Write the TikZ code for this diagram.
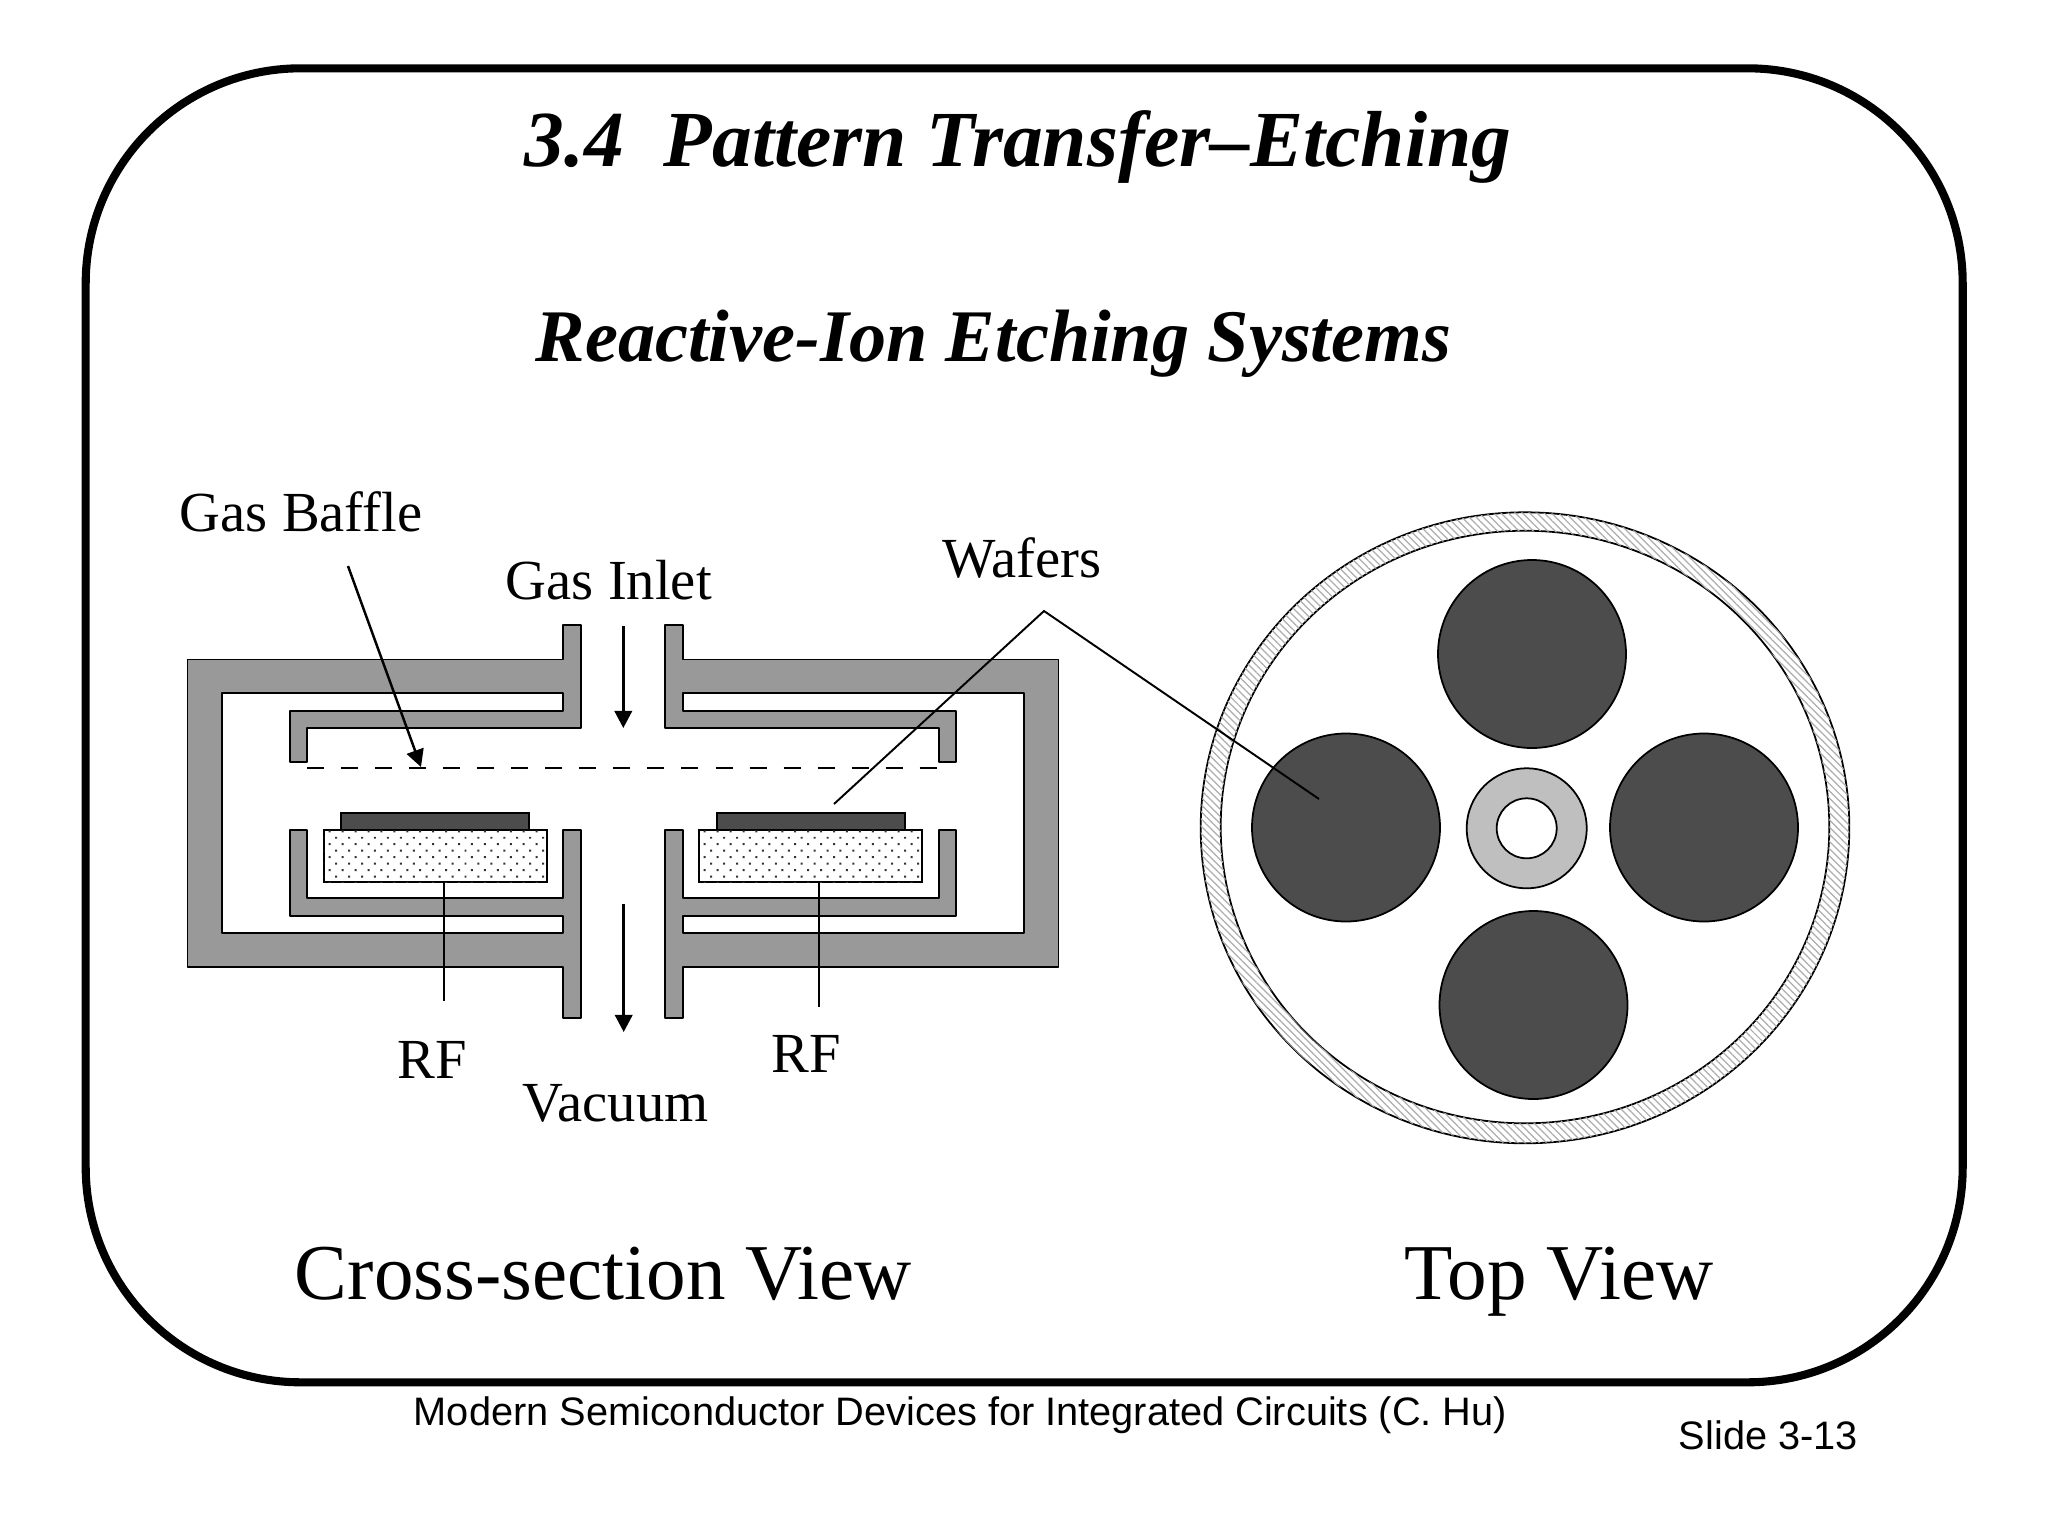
\documentclass[tikz,border=0pt]{standalone}
\usepackage{fontspec}
\setmainfont{Liberation Serif}
\newfontfamily\footfont{Liberation Sans}
\usetikzlibrary{arrows.meta}
\usetikzlibrary{patterns.meta}
\definecolor{WallCol}{gray}{.6}
\definecolor{WaferCol}{gray}{.3}
\definecolor{HubCol}{gray}{.75}
\definecolor{StippleCol}{gray}{.2}
\definecolor{RingCol}{gray}{.68}

\begin{document}
\begin{tikzpicture}[
  x=0.01cm, y=-0.01cm,
  line width=0.5pt,
  wall/.style={fill=WallCol, draw=black, line join=round},
  wafer/.style={fill=WaferCol, draw=black},
  stipple/.style={draw=black, fill=white, postaction={pattern={Dots[angle=45, distance=2.6pt, radius=0.4pt]}, pattern color=StippleCol}},
  ring/.style={draw=black, even odd rule, fill=white, postaction={pattern={Lines[angle=-45, distance=1.45pt, line width=0.35pt]}, pattern color=RingCol}},
  leader/.style={draw=black, line width=0.55pt},
  flow/.style={draw=black, line width=0.7pt, -{Triangle[length=4.9pt, width=5pt]}},
  head/.style={inner sep=0pt, anchor=base west, font=\fontsize{22.6}{26}\selectfont\bfseries\itshape},
  subhead/.style={inner sep=0pt, anchor=base west, font=\fontsize{21.1}{24}\selectfont\bfseries\itshape},
  parts/.style={inner sep=0pt, anchor=base west, font=\fontsize{16.1}{19}\selectfont},
  view/.style={inner sep=0pt, anchor=base west, font=\fontsize{22.5}{26}\selectfont},
  credit/.style={inner sep=0pt, anchor=base west, font=\fontsize{11.3}{14}\selectfont\footfont}
  ]
  \useasboundingbox (0,0) rectangle (2048,1536);

  % slide frame:
  \draw [line width=2.3pt, rounded corners=2.15cm] (85.7,68.3) rectangle (1962.7,1382.3);

  % headings:
  \node [head] (title) at (524,166) {3.4\hspace{0.5em}Pattern Transfer--Etching};
  \node [subhead] (subtitle) at (535,361) {Reactive-Ion Etching Systems};

  % chamber, both halves:
  \foreach \s in {-1,1} {
    \begin{scope}[shift={(623,0)}, xscale=-\s]
      \filldraw [wall] (60,625) -- (42,625) -- (42,728.3) -- (316,728.3) -- (316,762.3) -- (333,762.3)
        -- (333,710.7) -- (60,710.7) -- (60,693) -- (401,693) -- (401,932.7) -- (60,932.7)
        -- (60,915.7) -- (333,915.7) -- (333,830) -- (316,830) -- (316,897.7) -- (60,897.7)
        -- (60,830) -- (42,830) -- (42,1018) -- (60,1018) -- (60,966.7) -- (435.5,966.7)
        -- (435.5,659.5) -- (60,659.5) -- cycle;
      \filldraw [wafer] (94,812.7) rectangle (282,830);
      \path [stipple] (76,830) rectangle (299,882);
    \end{scope}
  }

  % baffle:
  \coordinate (baffleleft) at (307,767.7);
  \coordinate (baffleright) at (939,767.7);
  \draw [dash pattern=on 4.84pt off 4.84pt] (baffleleft) -- (baffleright);

  % top view:
  \path [ring] (1525,827.8) ellipse (324.3 and 315.5) (1525,827) ellipse (304.3 and 296.3);
  \foreach \nm/\a/\b in {waferN/1532/654, waferW/1346/827.5, waferE/1704/827.5, waferS/1533.5/1005} {
    \node [wafer, circle, inner sep=0pt, minimum size=188*0.01cm] (\nm) at (\a,\b) {};
  }
  \node [circle, draw=black, fill=HubCol, inner sep=0pt, minimum size=120*0.01cm] (hub) at (1526.7,828.3) {};
  \node [circle, draw=black, fill=white, inner sep=0pt, minimum size=60*0.01cm] (hole) at (1526.7,828.3) {};

  % labels:
  \node [parts] (gasbaffle) at (179,531) {Gas Baffle};
  \node [parts] (gasinlet) at (505,599) {Gas Inlet};
  \node [parts] (wafers) at (942,577) {Wafers};
  \node [parts] (rfleft) at (397,1078) {RF};
  \node [parts] (rfright) at (771,1072) {RF};
  \node [parts] (vacuum) at (522,1121) {Vacuum};
  \node [view] (crossview) at (294,1299) {Cross-section View};
  \node [view] (topview) at (1404,1299) {Top View};
  \node [credit] (book) at (413,1425) {Modern Semiconductor Devices for Integrated Circuits (C. Hu)};
  \node [credit] (slide) at (1678,1449) {Slide 3-13};

  % leaders and flows:
  \coordinate (bafflefrom) at (348,566);
  \coordinate (baffletip) at (421,767);
  \draw [flow] (bafflefrom) -- (baffletip);

  \coordinate (inletfrom) at (623.3,626);
  \coordinate (inletto) at (623.3,728);
  \draw [flow] (inletfrom) -- (inletto);
  \coordinate (vacfrom) at (623.7,904);
  \coordinate (vacto) at (623.7,1032);
  \draw [flow] (vacfrom) -- (vacto);

  \coordinate (rfa) at (443.7,882);
  \coordinate (rfaend) at (443.7,1000.7);
  \draw [leader] (rfa) -- (rfaend);
  \coordinate (rfb) at (819,882);
  \coordinate (rfbend) at (819,1006.7);
  \draw [leader] (rfb) -- (rfbend);

  \coordinate (wafersapex) at (1044,611);
  \coordinate (waferleft) at (834,804);
  \coordinate (waferright) at (1319,799);
  \draw [leader] (waferleft) -- (wafersapex) -- (waferright);
\end{tikzpicture}
\end{document}
